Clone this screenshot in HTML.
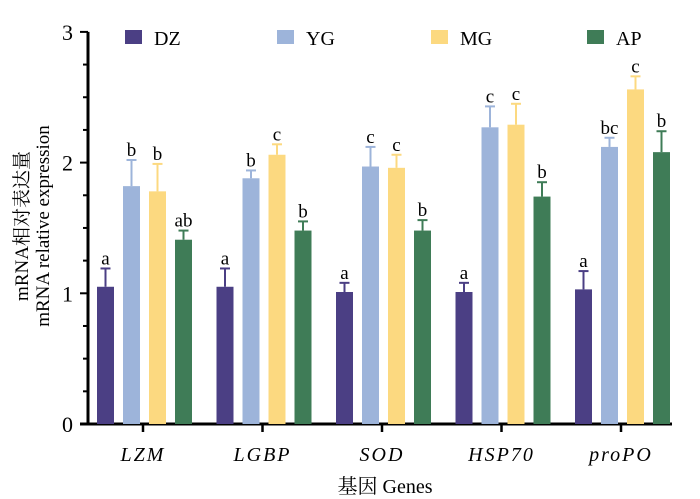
<!DOCTYPE html>
<html><head><meta charset="utf-8"><style>
body{margin:0;background:#fff}
svg{display:block;font-family:"Liberation Serif","Noto Serif CJK SC",serif}
</style></head><body>
<svg width="700" height="499" viewBox="0 0 700 499">
<g id="axes"></g><g id="bars"></g><g id="legend"></g>
<text x="385" y="493" text-anchor="middle" font-size="20">基因 Genes</text>
<g transform="translate(28,226) rotate(-90)">
<text x="0" y="0" text-anchor="middle" font-size="19">mRNA相对表达量</text>
<text x="0" y="21" text-anchor="middle" font-size="19">mRNA relative expression</text>
</g>
</svg>
<script>
const genes=["LZM","LGBP","SOD","HSP70","proPO"];
const series=["DZ","YG","MG","AP"];
const colors=["#4b3f84","#9db4da","#fcd980","#3f7c57"];
const dz=[1.05,1.05,1.01,1.01,1.03];
const yg=[1.82,1.88,1.97,2.27,2.12];
const mg=[1.78,2.06,1.96,2.29,2.56];
const ap=[1.41,1.48,1.48,1.74,2.08];
const dzErr=[0.14,0.14,0.07,0.07,0.14];
const ygErr=[0.20,0.06,0.15,0.16,0.07];
const mgErr=[0.21,0.08,0.10,0.16,0.10];
const apErr=[0.07,0.07,0.08,0.11,0.16];
const dzLab=["a","a","a","a","a"];
const ygLab=["b","b","c","c","bc"];
const mgLab=["b","c","c","c","c"];
const apLab=["ab","b","b","b","b"];
const yTicks=[0,1,2,3];
const NS="http://www.w3.org/2000/svg";
const y=v=>424-v*130.7;
const xc=i=>143+i*119.5;
function mk(t,a,p){const e=document.createElementNS(NS,t);for(const k in a)e.setAttribute(k,a[k]);p.appendChild(e);return e;}
const ax=document.getElementById('axes');
const yl=mk('line',{x1:88,y1:y(3),x2:88,y2:425.5,stroke:'#000','stroke-width':3},ax);


const xl=mk('line',{x1:80,y1:424,x2:672,y2:424,stroke:'#000','stroke-width':3},ax);


for(let v=0;v<=3.001;v+=0.25){
  const major=Math.abs(v-Math.round(v))<1e-6;
  mk('line',{x1:major?80:83,y1:y(v),x2:88,y2:y(v),stroke:'#000','stroke-width':2},ax);
}
yTicks.forEach(v=>{
  const t=mk('text',{x:73,y:y(v)+8,'text-anchor':'end','font-size':22},ax);t.textContent=v;
  
  
});
genes.forEach((g,i)=>{
  mk('line',{x1:xc(i),y1:424,x2:xc(i),y2:432,stroke:'#000','stroke-width':2.5},ax);
  const t=mk('text',{x:xc(i),y:461,'text-anchor':'middle','font-size':20,'font-style':'italic','letter-spacing':'2'},ax);t.textContent=g;
  
  
});
const vals=[dz,yg,mg,ap],errs=[dzErr,ygErr,mgErr,apErr],labs=[dzLab,ygLab,mgLab,apLab];
const bg=document.getElementById('bars');
genes.forEach((g,i)=>{
  series.forEach((s,j)=>{
    const x0=xc(i)-46+j*26,v=vals[j][i],e=errs[j][i];
    const cx=x0+8.5;
    mk('line',{x1:cx,y1:y(v),x2:cx,y2:y(v+e),stroke:colors[j],'stroke-width':2},bg);
    mk('line',{x1:cx-5,y1:y(v+e),x2:cx+5,y2:y(v+e),stroke:colors[j],'stroke-width':2},bg);
    const r=mk('rect',{x:x0,y:y(v),width:17,height:424-y(v),fill:colors[j]},bg);
    
    
    const t=mk('text',{x:cx,y:y(v+e)-4,'text-anchor':'middle','font-size':19},bg);t.textContent=labs[j][i];
    
    
  });
});
const lg=document.getElementById('legend');
const lx=[125,277,431,587];
series.forEach((s,j)=>{
  const g=mk('g',{},lg);
  
  
  mk('rect',{x:lx[j],y:30,width:17,height:14,fill:colors[j]},g);
  const t=mk('text',{x:lx[j]+29,y:45,'font-size':20},g);t.textContent=s;
});
</script>
</body></html>
